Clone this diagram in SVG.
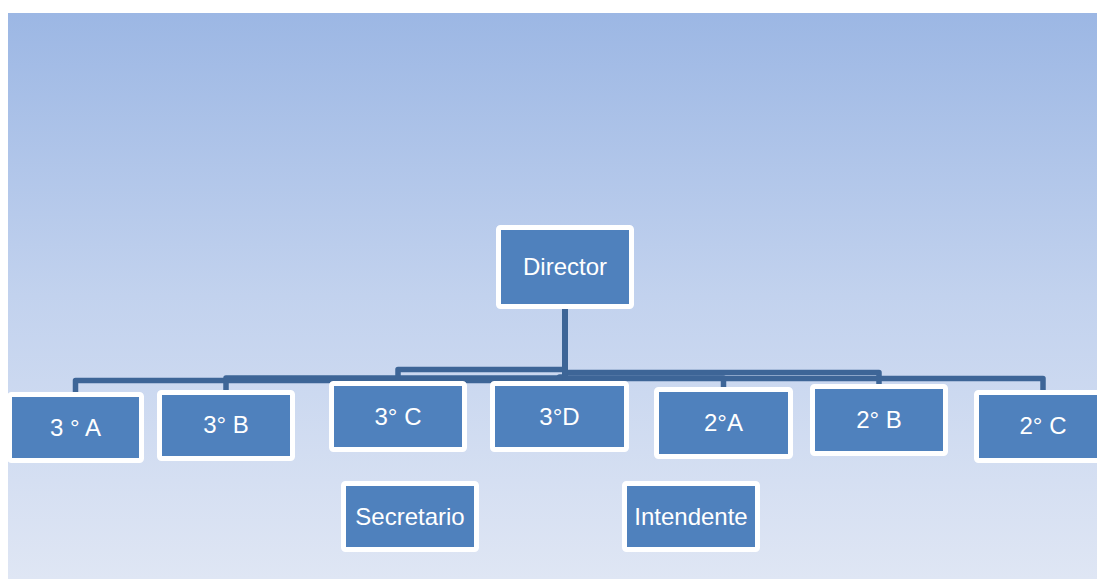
<svg xmlns="http://www.w3.org/2000/svg" width="1097" height="579" viewBox="0 0 1097 579">
  <defs>
    <linearGradient id="bg" x1="0" y1="0" x2="0" y2="1">
      <stop offset="0" stop-color="#9cb7e4"/>
      <stop offset="0.5" stop-color="#c2d2ee"/>
      <stop offset="1" stop-color="#dfe6f4"/>
    </linearGradient>
  </defs>
  <style>
    .box { fill: #4f81bd; stroke: #ffffff; stroke-width: 5; }
    .lbl { fill: #ffffff; font-family: "Liberation Sans", Arial, sans-serif; font-size: 24px; text-anchor: middle; }
    .conn { fill: none; stroke: #3d6597; stroke-width: 5.5; stroke-linejoin: round; }
  </style>
  <rect x="0" y="0" width="1097" height="579" fill="#ffffff"/>
  <rect x="8" y="13" width="1089" height="566" fill="url(#bg)"/>

  <g id="connectors">
    <path class="conn" d="M565,308 V380.5 H75.5 V392"/>
    <path class="conn" d="M565,308 V378 H226 V390"/>
    <path class="conn" d="M565,308 V369.5 H398 V381"/>
    <path class="conn" d="M565,308 V377 H559.5 V381"/>
    <path class="conn" d="M565,308 V378 H723.5 V387"/>
    <path class="conn" d="M565,308 V372.5 H879 V384"/>
    <path class="conn" d="M565,308 V378.5 H1043 V390"/>
  </g>

  <g id="director">
    <rect class="box" x="498.5" y="227.5" width="133" height="79" rx="2"/>
    <text class="lbl" x="565" y="275">Director</text>
  </g>
  <g id="n3A">
    <rect class="box" x="9.5" y="394.5" width="132" height="66" rx="2"/>
    <text class="lbl" x="75.5" y="436">3 ° A</text>
  </g>
  <g id="n3B">
    <rect class="box" x="159.5" y="392.5" width="133" height="66" rx="2"/>
    <text class="lbl" x="226" y="433">3° B</text>
  </g>
  <g id="n3C">
    <rect class="box" x="331.5" y="383.5" width="133" height="66" rx="2"/>
    <text class="lbl" x="398" y="425">3° C</text>
  </g>
  <g id="n3D">
    <rect class="box" x="492.5" y="383.5" width="134" height="66" rx="2"/>
    <text class="lbl" x="559.5" y="425">3°D</text>
  </g>
  <g id="n2A">
    <rect class="box" x="656.5" y="389.5" width="134" height="67" rx="2"/>
    <text class="lbl" x="723.5" y="431">2°A</text>
  </g>
  <g id="n2B">
    <rect class="box" x="812.5" y="386.5" width="133" height="67" rx="2"/>
    <text class="lbl" x="879" y="428">2° B</text>
  </g>
  <g id="n2C">
    <rect class="box" x="976.5" y="392.5" width="133" height="68" rx="2"/>
    <text class="lbl" x="1043" y="434">2° C</text>
  </g>
  <g id="secretario">
    <rect class="box" x="343.5" y="483.5" width="133" height="66" rx="2"/>
    <text class="lbl" x="410" y="525">Secretario</text>
  </g>
  <g id="intendente">
    <rect class="box" x="624.5" y="483.5" width="133" height="66" rx="2"/>
    <text class="lbl" x="691" y="525">Intendente</text>
  </g>
</svg>
